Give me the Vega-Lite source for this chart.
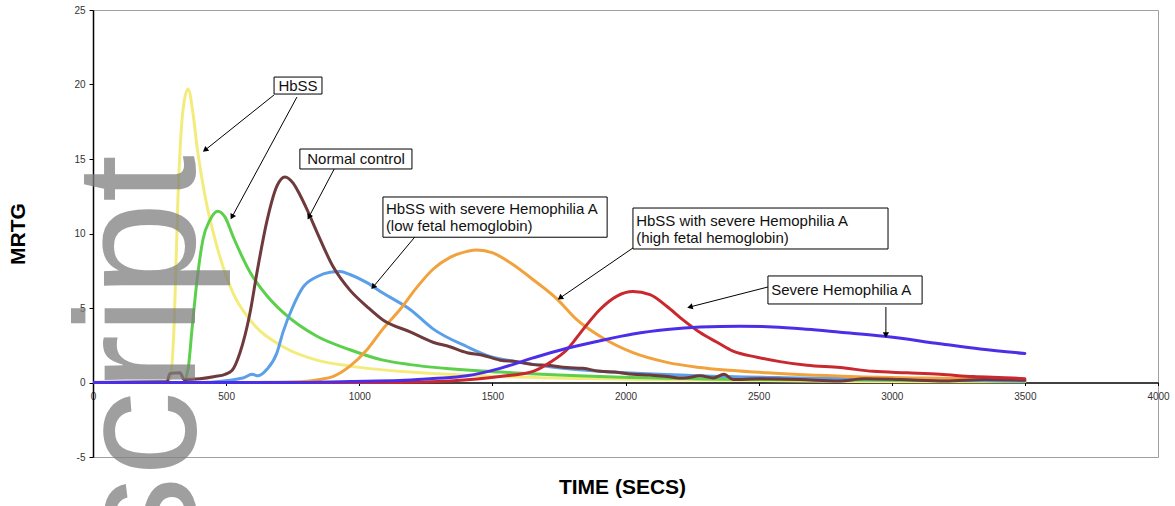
{
  "$schema": "https://vega.github.io/schema/vega-lite/v6.json",
  "width": 1065,
  "height": 447,
  "autosize": {"type": "none"},
  "padding": {"left": 93, "top": 10, "right": 17, "bottom": 49},
  "background": "white",
  "config": {"view": {"stroke": "#a0a0a0", "strokeWidth": 1}, "font": "Liberation Sans"},
  "datasets": {
    "curves": [
      {"s": "HbSS 1", "t": 0, "v": 0}, {"s": "HbSS 1", "t": 270, "v": 0}, {"s": "HbSS 1", "t": 289, "v": 0.2}, {"s": "HbSS 1", "t": 305, "v": 4}, {"s": "HbSS 1", "t": 319, "v": 12.3}, {"s": "HbSS 1", "t": 338, "v": 18.3}, {"s": "HbSS 1", "t": 357, "v": 19.7}, {"s": "HbSS 1", "t": 376, "v": 18.0}, {"s": "HbSS 1", "t": 391, "v": 15.8}, {"s": "HbSS 1", "t": 421, "v": 12.5}, {"s": "HbSS 1", "t": 466, "v": 9.1}, {"s": "HbSS 1", "t": 526, "v": 6.0}, {"s": "HbSS 1", "t": 590, "v": 4.2}, {"s": "HbSS 1", "t": 714, "v": 2.4}, {"s": "HbSS 1", "t": 841, "v": 1.5}, {"s": "HbSS 1", "t": 965, "v": 1.1}, {"s": "HbSS 1", "t": 1191, "v": 0.7}, {"s": "HbSS 1", "t": 1529, "v": 0.4}, {"s": "HbSS 1", "t": 2092, "v": 0.2}, {"s": "HbSS 1", "t": 2843, "v": 0.07}, {"s": "HbSS 1", "t": 3500, "v": 0.05},
      {"s": "HbSS 2", "t": 0, "v": 0}, {"s": "HbSS 2", "t": 338, "v": 0}, {"s": "HbSS 2", "t": 357, "v": 0.9}, {"s": "HbSS 2", "t": 372, "v": 3.6}, {"s": "HbSS 2", "t": 391, "v": 6.9}, {"s": "HbSS 2", "t": 413, "v": 9.6}, {"s": "HbSS 2", "t": 439, "v": 10.9}, {"s": "HbSS 2", "t": 469, "v": 11.5}, {"s": "HbSS 2", "t": 496, "v": 11.1}, {"s": "HbSS 2", "t": 526, "v": 9.8}, {"s": "HbSS 2", "t": 590, "v": 7.4}, {"s": "HbSS 2", "t": 654, "v": 5.8}, {"s": "HbSS 2", "t": 714, "v": 4.7}, {"s": "HbSS 2", "t": 841, "v": 3.1}, {"s": "HbSS 2", "t": 965, "v": 2.2}, {"s": "HbSS 2", "t": 1089, "v": 1.5}, {"s": "HbSS 2", "t": 1191, "v": 1.2}, {"s": "HbSS 2", "t": 1529, "v": 0.7}, {"s": "HbSS 2", "t": 1904, "v": 0.4}, {"s": "HbSS 2", "t": 2468, "v": 0.2}, {"s": "HbSS 2", "t": 3500, "v": 0.1},
      {"s": "Low HbF", "t": 0, "v": 0}, {"s": "Low HbF", "t": 402, "v": 0}, {"s": "Low HbF", "t": 563, "v": 0.3}, {"s": "Low HbF", "t": 597, "v": 0.55}, {"s": "Low HbF", "t": 620, "v": 0.45}, {"s": "Low HbF", "t": 654, "v": 0.9}, {"s": "Low HbF", "t": 691, "v": 2.0}, {"s": "Low HbF", "t": 714, "v": 3.4}, {"s": "Low HbF", "t": 751, "v": 5.1}, {"s": "Low HbF", "t": 789, "v": 6.4}, {"s": "Low HbF", "t": 841, "v": 7.1}, {"s": "Low HbF", "t": 890, "v": 7.4}, {"s": "Low HbF", "t": 928, "v": 7.45}, {"s": "Low HbF", "t": 965, "v": 7.25}, {"s": "Low HbF", "t": 1029, "v": 6.7}, {"s": "Low HbF", "t": 1089, "v": 6.0}, {"s": "Low HbF", "t": 1191, "v": 4.9}, {"s": "Low HbF", "t": 1277, "v": 3.6}, {"s": "Low HbF", "t": 1405, "v": 2.4}, {"s": "Low HbF", "t": 1491, "v": 1.75}, {"s": "Low HbF", "t": 1593, "v": 1.4}, {"s": "Low HbF", "t": 1716, "v": 1.05}, {"s": "Low HbF", "t": 1904, "v": 0.75}, {"s": "Low HbF", "t": 2280, "v": 0.45}, {"s": "Low HbF", "t": 2655, "v": 0.3}, {"s": "Low HbF", "t": 3500, "v": 0.1},
      {"s": "High HbF", "t": 0, "v": 0}, {"s": "High HbF", "t": 590, "v": 0}, {"s": "High HbF", "t": 777, "v": 0.05}, {"s": "High HbF", "t": 853, "v": 0.2}, {"s": "High HbF", "t": 901, "v": 0.4}, {"s": "High HbF", "t": 965, "v": 1.1}, {"s": "High HbF", "t": 1029, "v": 2.2}, {"s": "High HbF", "t": 1089, "v": 3.6}, {"s": "High HbF", "t": 1153, "v": 4.9}, {"s": "High HbF", "t": 1217, "v": 6.4}, {"s": "High HbF", "t": 1277, "v": 7.6}, {"s": "High HbF", "t": 1341, "v": 8.4}, {"s": "High HbF", "t": 1405, "v": 8.8}, {"s": "High HbF", "t": 1442, "v": 8.9}, {"s": "High HbF", "t": 1502, "v": 8.7}, {"s": "High HbF", "t": 1566, "v": 8.05}, {"s": "High HbF", "t": 1653, "v": 6.9}, {"s": "High HbF", "t": 1743, "v": 5.6}, {"s": "High HbF", "t": 1818, "v": 4.2}, {"s": "High HbF", "t": 1904, "v": 3.1}, {"s": "High HbF", "t": 2028, "v": 2.0}, {"s": "High HbF", "t": 2156, "v": 1.35}, {"s": "High HbF", "t": 2280, "v": 1.0}, {"s": "High HbF", "t": 2531, "v": 0.65}, {"s": "High HbF", "t": 2843, "v": 0.4}, {"s": "High HbF", "t": 3219, "v": 0.27}, {"s": "High HbF", "t": 3500, "v": 0.2},
      {"s": "Normal control", "t": 0, "v": 0}, {"s": "Normal control", "t": 252, "v": 0.05}, {"s": "Normal control", "t": 278, "v": 0.05}, {"s": "Normal control", "t": 289, "v": 0.6}, {"s": "Normal control", "t": 327, "v": 0.65}, {"s": "Normal control", "t": 342, "v": 0.2}, {"s": "Normal control", "t": 402, "v": 0.25}, {"s": "Normal control", "t": 458, "v": 0.4}, {"s": "Normal control", "t": 496, "v": 0.55}, {"s": "Normal control", "t": 522, "v": 0.8}, {"s": "Normal control", "t": 552, "v": 2.0}, {"s": "Normal control", "t": 590, "v": 4.7}, {"s": "Normal control", "t": 616, "v": 7.4}, {"s": "Normal control", "t": 654, "v": 10.9}, {"s": "Normal control", "t": 691, "v": 13.2}, {"s": "Normal control", "t": 721, "v": 13.8}, {"s": "Normal control", "t": 751, "v": 13.4}, {"s": "Normal control", "t": 777, "v": 12.6}, {"s": "Normal control", "t": 804, "v": 11.6}, {"s": "Normal control", "t": 841, "v": 10.1}, {"s": "Normal control", "t": 901, "v": 7.8}, {"s": "Normal control", "t": 965, "v": 6.2}, {"s": "Normal control", "t": 1029, "v": 5.1}, {"s": "Normal control", "t": 1089, "v": 4.2}, {"s": "Normal control", "t": 1191, "v": 3.4}, {"s": "Normal control", "t": 1277, "v": 2.7}, {"s": "Normal control", "t": 1340, "v": 2.4}, {"s": "Normal control", "t": 1405, "v": 2.0}, {"s": "Normal control", "t": 1460, "v": 1.85}, {"s": "Normal control", "t": 1529, "v": 1.5}, {"s": "Normal control", "t": 1590, "v": 1.4}, {"s": "Normal control", "t": 1653, "v": 1.2}, {"s": "Normal control", "t": 1710, "v": 1.15}, {"s": "Normal control", "t": 1780, "v": 1.0}, {"s": "Normal control", "t": 1840, "v": 0.95}, {"s": "Normal control", "t": 1904, "v": 0.75}, {"s": "Normal control", "t": 1960, "v": 0.7}, {"s": "Normal control", "t": 2028, "v": 0.55}, {"s": "Normal control", "t": 2090, "v": 0.5}, {"s": "Normal control", "t": 2156, "v": 0.4}, {"s": "Normal control", "t": 2220, "v": 0.3}, {"s": "Normal control", "t": 2280, "v": 0.45}, {"s": "Normal control", "t": 2330, "v": 0.3}, {"s": "Normal control", "t": 2370, "v": 0.55}, {"s": "Normal control", "t": 2404, "v": 0.2}, {"s": "Normal control", "t": 2500, "v": 0.25}, {"s": "Normal control", "t": 2655, "v": 0.2}, {"s": "Normal control", "t": 2800, "v": 0.1}, {"s": "Normal control", "t": 2900, "v": 0.25}, {"s": "Normal control", "t": 3031, "v": 0.2}, {"s": "Normal control", "t": 3200, "v": 0.1}, {"s": "Normal control", "t": 3350, "v": 0.2}, {"s": "Normal control", "t": 3500, "v": 0.15},
      {"s": "Severe Hem A 1", "t": 0, "v": 0}, {"s": "Severe Hem A 1", "t": 1153, "v": 0}, {"s": "Severe Hem A 1", "t": 1341, "v": 0.1}, {"s": "Severe Hem A 1", "t": 1529, "v": 0.4}, {"s": "Severe Hem A 1", "t": 1653, "v": 0.75}, {"s": "Severe Hem A 1", "t": 1716, "v": 1.35}, {"s": "Severe Hem A 1", "t": 1780, "v": 2.2}, {"s": "Severe Hem A 1", "t": 1840, "v": 3.55}, {"s": "Severe Hem A 1", "t": 1904, "v": 4.9}, {"s": "Severe Hem A 1", "t": 1968, "v": 5.8}, {"s": "Severe Hem A 1", "t": 2028, "v": 6.1}, {"s": "Severe Hem A 1", "t": 2092, "v": 5.9}, {"s": "Severe Hem A 1", "t": 2156, "v": 5.1}, {"s": "Severe Hem A 1", "t": 2216, "v": 4.2}, {"s": "Severe Hem A 1", "t": 2280, "v": 3.35}, {"s": "Severe Hem A 1", "t": 2344, "v": 2.7}, {"s": "Severe Hem A 1", "t": 2404, "v": 2.1}, {"s": "Severe Hem A 1", "t": 2494, "v": 1.7}, {"s": "Severe Hem A 1", "t": 2580, "v": 1.4}, {"s": "Severe Hem A 1", "t": 2682, "v": 1.15}, {"s": "Severe Hem A 1", "t": 2806, "v": 1.0}, {"s": "Severe Hem A 1", "t": 2930, "v": 0.75}, {"s": "Severe Hem A 1", "t": 3057, "v": 0.65}, {"s": "Severe Hem A 1", "t": 3181, "v": 0.55}, {"s": "Severe Hem A 1", "t": 3305, "v": 0.4}, {"s": "Severe Hem A 1", "t": 3455, "v": 0.3}, {"s": "Severe Hem A 1", "t": 3500, "v": 0.25},
      {"s": "Severe Hem A 2", "t": 0, "v": 0}, {"s": "Severe Hem A 2", "t": 740, "v": 0}, {"s": "Severe Hem A 2", "t": 965, "v": 0.07}, {"s": "Severe Hem A 2", "t": 1153, "v": 0.13}, {"s": "Severe Hem A 2", "t": 1277, "v": 0.27}, {"s": "Severe Hem A 2", "t": 1405, "v": 0.45}, {"s": "Severe Hem A 2", "t": 1529, "v": 0.95}, {"s": "Severe Hem A 2", "t": 1653, "v": 1.65}, {"s": "Severe Hem A 2", "t": 1780, "v": 2.3}, {"s": "Severe Hem A 2", "t": 1904, "v": 2.8}, {"s": "Severe Hem A 2", "t": 2028, "v": 3.25}, {"s": "Severe Hem A 2", "t": 2156, "v": 3.55}, {"s": "Severe Hem A 2", "t": 2280, "v": 3.72}, {"s": "Severe Hem A 2", "t": 2430, "v": 3.78}, {"s": "Severe Hem A 2", "t": 2554, "v": 3.73}, {"s": "Severe Hem A 2", "t": 2682, "v": 3.57}, {"s": "Severe Hem A 2", "t": 2806, "v": 3.37}, {"s": "Severe Hem A 2", "t": 2971, "v": 3.1}, {"s": "Severe Hem A 2", "t": 3181, "v": 2.6}, {"s": "Severe Hem A 2", "t": 3332, "v": 2.25}, {"s": "Severe Hem A 2", "t": 3500, "v": 1.95}
    ],
    "boxes": [
      {"t": 680, "t2": 860, "v": 20.5, "v2": 19.36},
      {"t": 777, "t2": 1198, "v": 15.67, "v2": 14.33},
      {"t": 1089, "t2": 1931, "v": 12.45, "v2": 9.75},
      {"t": 2028, "t2": 2986, "v": 11.71, "v2": 8.96},
      {"t": 2535, "t2": 3114, "v": 7.15, "v2": 5.27}
    ],
    "centered": [
      {"t": 770, "v": 19.93, "label": "HbSS"},
      {"t": 988, "v": 15.0, "label": "Normal control"}
    ],
    "lefted": [
      {"t": 1100, "v": 11.64, "label": "HbSS with severe Hemophilia A"},
      {"t": 1100, "v": 10.5, "label": "(low fetal hemoglobin)"},
      {"t": 2040, "v": 10.84, "label": "HbSS with severe Hemophilia A"},
      {"t": 2040, "v": 9.7, "label": "(high fetal hemoglobin)"},
      {"t": 2547, "v": 6.21, "label": "Severe Hemophilia A"}
    ],
    "arrows": [
      {"t": 680, "v": 19.3, "t2": 421, "v2": 15.6},
      {"t": 766, "v": 19.16, "t2": 522, "v2": 11.11},
      {"t": 909, "v": 14.43, "t2": 811, "v2": 11.11},
      {"t": 1209, "v": 9.77, "t2": 1052, "v2": 6.41},
      {"t": 2028, "v": 9.03, "t2": 1754, "v2": 5.67},
      {"t": 2535, "v": 6.41, "t2": 2242, "v2": 5.07},
      {"t": 2978, "v": 5.07, "t2": 2978, "v2": 3.19}
    ],
    "watermark": [
      {"t": 383, "v": 15.27, "label": "Manuscript"}
    ]
  },
  "layer": [
    {
      "data": {"name": "curves"},
      "mark": {"type": "line", "interpolate": "monotone", "strokeWidth": 3, "strokeCap": "round", "strokeJoin": "round", "clip": true},
      "encoding": {
        "x": {"field": "t", "type": "quantitative", "scale": {"domain": [0, 4000], "nice": false, "zero": false},
          "axis": {"values": [0, 500, 1000, 1500, 2000, 2500, 3000, 3500, 4000], "labelExpr": "'' + datum.value", "offset": -74.5, "grid": false,
            "domainColor": "#000000", "domainWidth": 1.5, "tickColor": "#000000", "tickSize": 3, "labelFontSize": 10, "labelColor": "#333333", "labelPadding": 6, "labelFont": "Liberation Sans", "labelFlush": false,
            "title": "TIME (SECS)", "titleFont": "Liberation Sans", "titleFontSize": 21, "titleFontWeight": "bold", "titleColor": "#000000", "titleBaseline": "alphabetic", "titleY": 111, "titleX": 529}},
        "y": {"field": "v", "type": "quantitative", "scale": {"domain": [-5, 25], "nice": false, "zero": false},
          "axis": {"values": [-5, 0, 5, 10, 15, 20, 25], "labelExpr": "'' + datum.value", "grid": false, "domainColor": "#000000", "domainWidth": 1.5, "tickColor": "#000000", "tickSize": 4, "labelFontSize": 10, "labelColor": "#333333", "labelPadding": 4, "labelFont": "Liberation Sans",
            "title": "MRTG", "titleFont": "Liberation Sans", "titleFontSize": 21, "titleFontWeight": "bold", "titleColor": "#000000", "titleAngle": 270, "titleAlign": "center", "titleBaseline": "middle", "titleX": -75, "titleY": 223.5}},
        "color": {"field": "s", "type": "nominal", "legend": null,
          "scale": {"domain": ["HbSS 1", "HbSS 2", "Low HbF", "High HbF", "Normal control", "Severe Hem A 1", "Severe Hem A 2"],
            "range": ["#f3ec7c", "#5ccf4c", "#5b9fe8", "#f2a23c", "#6e3a3c", "#c9282e", "#4b2fe8"]}}
      }
    },
    {
      "data": {"name": "arrows"},
      "mark": {"type": "rule", "color": "#000000", "strokeWidth": 1},
      "encoding": {
        "x": {"field": "t", "type": "quantitative"},
        "y": {"field": "v", "type": "quantitative"},
        "x2": {"field": "t2"},
        "y2": {"field": "v2"}
      }
    },
    {
      "data": {"name": "arrows"},
      "transform": [{"calculate": "atan2((datum.t2 - datum.t) * 1065 / 4000, (datum.v2 - datum.v) * 447 / 30) * 180 / PI", "as": "ang"}],
      "mark": {"type": "point", "shape": "triangle-up", "filled": true, "color": "#000000", "size": 40, "opacity": 1},
      "encoding": {
        "x": {"field": "t2", "type": "quantitative"},
        "y": {"field": "v2", "type": "quantitative"},
        "angle": {"field": "ang", "type": "quantitative", "scale": null}
      }
    },
    {
      "data": {"name": "boxes"},
      "mark": {"type": "rect", "fill": "#ffffff", "stroke": "#000000", "strokeWidth": 1},
      "encoding": {
        "x": {"field": "t", "type": "quantitative"},
        "x2": {"field": "t2"},
        "y": {"field": "v", "type": "quantitative"},
        "y2": {"field": "v2"}
      }
    },
    {
      "data": {"name": "centered"},
      "mark": {"type": "text", "align": "center", "baseline": "middle", "fontSize": 15, "font": "Liberation Sans", "color": "#111111"},
      "encoding": {
        "x": {"field": "t", "type": "quantitative"},
        "y": {"field": "v", "type": "quantitative"},
        "text": {"field": "label"}
      }
    },
    {
      "data": {"name": "lefted"},
      "mark": {"type": "text", "align": "left", "baseline": "middle", "fontSize": 15, "font": "Liberation Sans", "color": "#111111"},
      "encoding": {
        "x": {"field": "t", "type": "quantitative"},
        "y": {"field": "v", "type": "quantitative"},
        "text": {"field": "label"}
      }
    },
    {
      "data": {"name": "watermark"},
      "mark": {"type": "text", "align": "right", "baseline": "alphabetic", "angle": 270, "fontSize": 170, "font": "Liberation Sans", "color": "#808080", "opacity": 0.75},
      "encoding": {
        "x": {"field": "t", "type": "quantitative"},
        "y": {"field": "v", "type": "quantitative"},
        "text": {"field": "label"}
      }
    }
  ]
}
